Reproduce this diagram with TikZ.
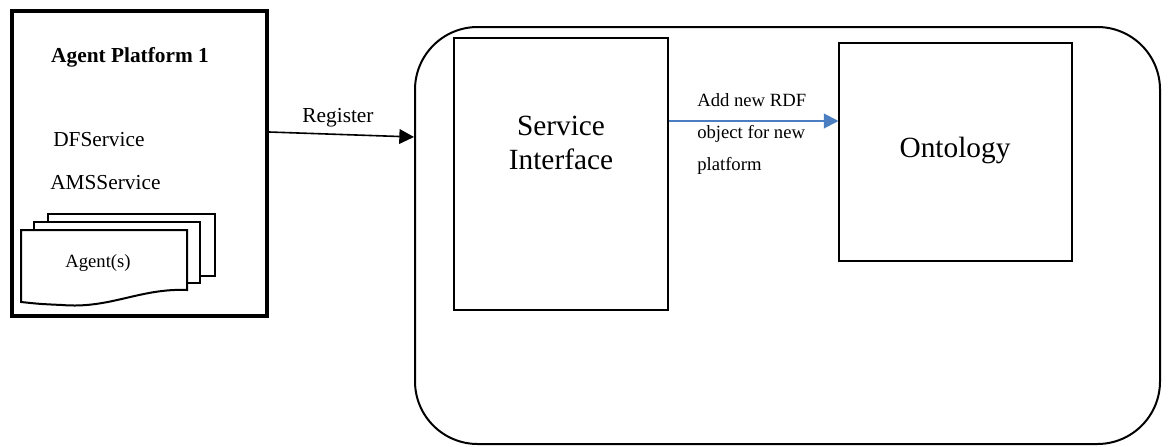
\documentclass[tikz,border=0pt]{standalone}
\usepackage{fontspec}
\setmainfont{Liberation Serif}
\usetikzlibrary{arrows.meta,fit}
\definecolor{arrowblue}{RGB}{74,126,193}

\begin{document}
\begin{tikzpicture}[x=0.75pt,y=0.75pt,yscale=-1,xscale=1,
  box/.style={draw, inner sep=0pt, line width=0.8pt},
  sheet/.style={draw, fill=white, line width=1.5pt},
  smalltxt/.style={inner sep=0.75pt, font=\fontsize{14}{24}\selectfont},
  midtxt/.style={inner sep=0.75pt, font=\fontsize{16}{19}\selectfont},
  bigtxt/.style={inner sep=0.75pt, font=\fontsize{22}{25}\selectfont}]
\useasboundingbox (0,0) rectangle (1169,446);

%Shape: Agent platform
\node [fit={(11.5,11) (267,316)}, draw, line width=3pt, inner sep=0pt] (platform) {};
%Shape: Agent sheets
\draw [sheet] (48,214) rectangle (215,276);
\draw [sheet] (34,222) rectangle (200,283);
\draw [sheet] (21,230) -- (187,230) -- (187,290) .. controls (140,288) and (110,309) .. (62,305) .. controls (40,304) .. (21,302) -- cycle;
%Shape: Rounded server box
\node [fit={(415,27) (1160,444)}, draw, line width=1.5pt, rounded corners=47pt, inner sep=0pt] (server) {};
%Shape: Service interface
\node [box, fit={(454,38) (668,310)}] (service) {};
%Shape: Ontology
\node [box, fit={(839,43) (1072,261)}] (onto) {};

%Straight Lines: register
\draw [-{Triangle[length=11pt,width=11pt]}, line width=1.2pt] (platform.east |- 0,132) -- (server.west |- 0,137);
%Straight Lines: add RDF object
\draw [-{Triangle[length=11pt,width=11pt]}, arrowblue, line width=1.5pt] (service.east |- 0,121) -- (onto.west |- 0,121);

% Text Node
\node [midtxt, font=\bfseries\fontsize{16}{19}\selectfont] (title) at (130,57) {Agent Platform 1};
% Text Node
\node [midtxt, anchor=west] (df) at (52,140) {DFService};
% Text Node
\node [midtxt, anchor=west] (ams) at (49,183) {AMSService};
% Text Node
\node [smalltxt] (agents) at (98,263) {Agent(s)};
% Text Node
\node [midtxt] (reglabel) at (338,118) {Register};
% Text Node
\node [smalltxt, anchor=north west, align=left] (rdflabel) at (696,92) {Add new RDF\\object for new\\platform};
% Text Node
\node [bigtxt, align=center] (servicetxt) at (561,143) {Service\\Interface};
% Text Node
\node [bigtxt] (ontotxt) at (955,150) {Ontology};
\end{tikzpicture}
\end{document}
